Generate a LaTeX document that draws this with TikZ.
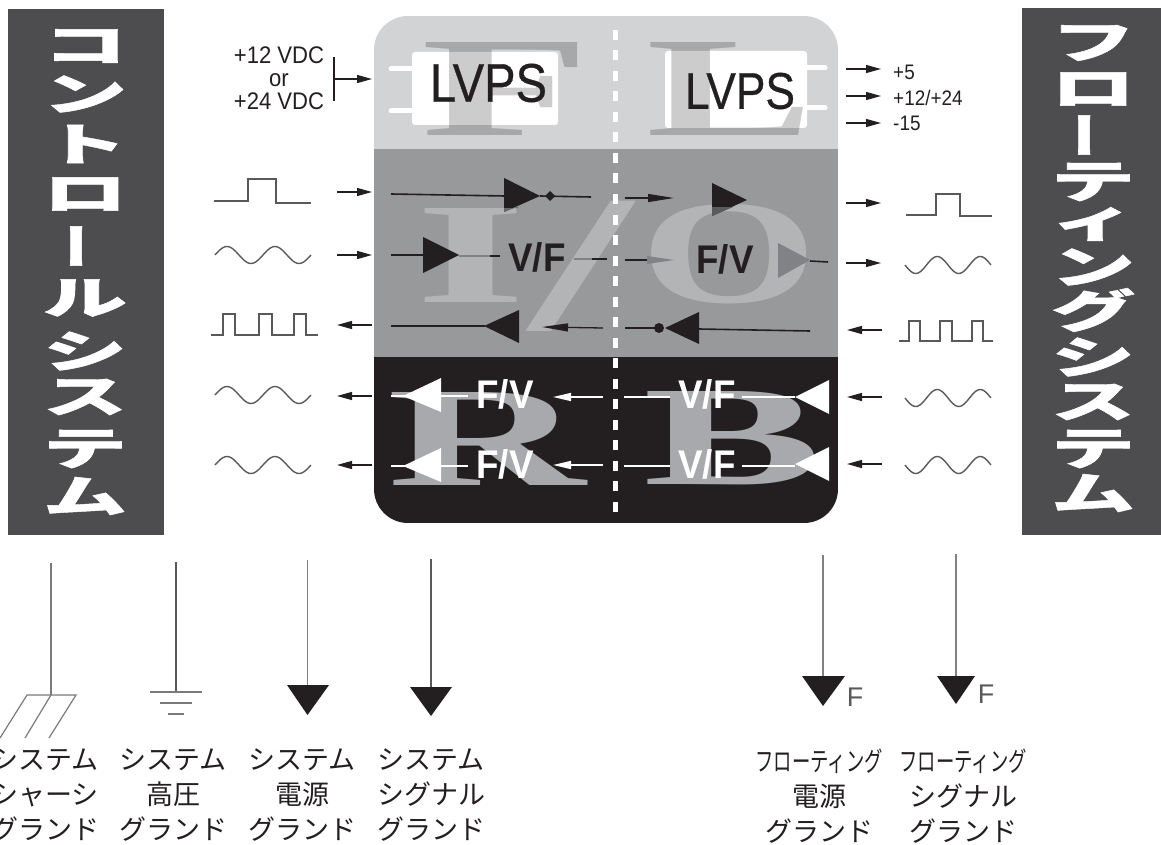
\documentclass[tikz,border=0pt]{standalone}
\usepackage{graphicx}
\usepackage{fontspec}
\setmainfont{Liberation Sans}
\newfontfamily\cjk{Noto Sans CJK JP}
\newfontfamily\cjkfat[BoldFeatures={FakeBold=1}]{Noto Sans CJK JP}
\newfontfamily\lvpsf[FakeBold=0.6]{Liberation Sans}
\newfontfamily\lett{Liberation Serif}
\usetikzlibrary{arrows.meta}
\definecolor{barc}{HTML}{4D4D4F}
\definecolor{lightb}{HTML}{D1D3D4}
\definecolor{midb}{HTML}{98999B}
\definecolor{darkb}{HTML}{231F20}
\definecolor{letd}{HTML}{A7A9AC}
\definecolor{wavec}{HTML}{58595B}
\definecolor{grayt}{HTML}{808285}
\newcommand{\conn}[5]{\coordinate (#1s) at (#3); \coordinate (#1e) at (#4); \draw[#2] (#1s) -- (#1e);}
\newcommand{\mytri}[4]{\fill[#1] (#2) -- (#3) -- (#4) -- cycle;}
\newcommand{\vch}[5]{\node[barch] (#1) at (#2,#3) {\scalebox{#4}[.8]{#5}};}
\newcommand{\vbar}[3]{\node[barch] (#1) at (#2,#3) {\rotatebox{90}{\scalebox{.85}[1.1]{ー}}};}
\newcommand{\sinewave}[5]{\draw[wave] plot[domain=0:1,samples=60,variable=\t] ({#1+#2*\t},{#3-#4*#5*sin(720*\t)});}
\tikzset{
  barch/.style={inner sep=0pt,text=white,font=\cjkfat\bfseries\fontsize{56}{56}\selectfont},
  wave/.style={draw=wavec,line width=1.4pt},
  ptrR/.style={-{Triangle[length=15pt,width=8pt]},line width=1.2pt,draw=darkb,fill=darkb},
  ptrS/.style={-{Triangle[length=26pt,width=8pt]},line width=1.3pt,draw=darkb,fill=darkb},
  wptr/.style={-{Triangle[length=18pt,width=8pt]},line width=1.5pt,draw=white,fill=white},
  blk/.style={line width=1.6pt,draw=darkb},
  wht/.style={line width=1.8pt,draw=white},
  pin/.style={line width=5pt,draw=white,line cap=round},
  bglet/.style={inner sep=0pt,font=\lett\bfseries},
  lvps/.style={inner sep=0pt,text=darkb,font=\lvpsf},
  sig/.style={inner sep=0pt,font=\bfseries\fontsize{40}{40}\selectfont},
  gline/.style={line width=1.2pt,draw=wavec!80},
  glab/.style={inner sep=0pt,align=center,font=\cjk\fontsize{27}{35}\selectfont,text=darkb},
  thin15/.style={line width=1.1pt,draw=wavec},
  lab/.style={inner sep=0pt,text=darkb},
}
\begin{document}
\begin{tikzpicture}[x=1pt,y=-1pt]
\useasboundingbox (0,0) rectangle (1161,845);
% side bars
\fill[barc] (8,9) rectangle (164,535);
\fill[barc] (1022,8) rectangle (1161,535);
\vch{l1}{85}{46}{1.5}{コ}
\vch{l2}{85}{94}{1.5}{ン}
\vch{l3}{85}{144}{1.5}{ト}
\vch{l4}{85}{194}{1.5}{ロ}
\vbar{l5}{85}{246}
\vch{l6}{85}{298}{1.5}{ル}
\vch{l7}{85}{351}{1.5}{シ}
\vch{l8}{85}{397}{1.5}{ス}
\vch{l9}{85}{449}{1.5}{テ}
\vch{l10}{85}{496}{1.5}{ム}
\vch{r1}{1093}{43}{1.5}{フ}
\vch{r2}{1093}{89}{1.5}{ロ}
\vbar{r3}{1093}{135}
\vch{r4}{1093}{182}{1.5}{テ}
\vch{r5}{1093}{224}{1.5}{ィ}
\vch{r6}{1093}{267}{1.5}{ン}
\vch{r7}{1093}{310}{1.5}{グ}
\vch{r8}{1093}{357}{1.5}{シ}
\vch{r9}{1093}{402}{1.5}{ス}
\vch{r10}{1093}{449}{1.5}{テ}
\vch{r11}{1093}{493}{1.5}{ム}
% panel
\begin{scope}
\clip[rounded corners=34pt] (374,16) rectangle (838,523);
\fill[lightb] (374,16) rectangle (838,149);
\fill[midb] (374,149) rectangle (838,357);
\fill[darkb] (374,357) rectangle (838,523);
\end{scope}
% LVPS backing
\fill[white,rounded corners=3pt] (412,52) rectangle (558,125);
\fill[white,rounded corners=3pt] (665,51) rectangle (807,128);
\conn{p1}{pin}{391,69}{412,69}{}
\conn{p2}{pin}{391,111}{412,111}{}
\conn{p3}{pin}{807,68}{825,68}{}
\conn{p4}{pin}{807,108}{825,108}{}
% big letters
\node[bglet,text=black,text opacity=.2] (bF) at (506,88.5) {\resizebox{169pt}{93pt}{F}};
\node[bglet,text=black,text opacity=.2] (bL) at (730,88.5) {\resizebox{167pt}{93pt}{L}};
\node[bglet,text=white,text opacity=.27] (bI) at (471.5,255) {\resizebox{111pt}{94pt}{I}};
\node[bglet,text=white,text opacity=.27] (bS) at (581,266) {\resizebox*{103pt}{130pt}{/}};
\node[bglet,text=white,text opacity=.27] (bO) at (729,254) {\resizebox{177pt}{98pt}{O}};
\node[bglet,text=letd] (bR) at (487,438.5) {\resizebox{198pt}{93pt}{R}};
\node[bglet,text=letd] (bB) at (733,438.5) {\resizebox{178pt}{93pt}{B}};
% divider
\coordinate (d1) at (615,30); \coordinate (d2) at (615,515);
\draw[white,line width=5pt,dash pattern=on 10pt off 10.5pt] (d1) -- (d2);
% LVPS text
\node[lvps] (lv1) at (488.5,83) {\resizebox{117pt}{38pt}{LVPS}};
\node[lvps] (lv2) at (740,91) {\resizebox{110pt}{36pt}{LVPS}};
% row 1
\conn{m1a}{blk}{391,194}{505,196}{}
\mytri{darkb}{504,178}{504,212}{540,196}
\fill[grayt!80!black] (504,208) -- (504,212) -- (518,206.5) -- (518,208) -- cycle;
\fill[darkb] (545,196) -- (550,191) -- (555,196) -- (550,201) -- cycle;
\conn{m1b}{blk}{540,196}{591,197}{}
\conn{m1c}{ptrS}{625,198}{674,198}{}
\mytri{darkb}{712,183}{712,216}{747,200}
\fill[grayt!70!black] (712,207) -- (712,216) -- (733,207) -- cycle;
% row 2
\conn{m2a}{blk}{391,255}{423,255}{}
\mytri{darkb}{423,237}{423,273}{459,255}
\draw[line width=1.6pt,draw=grayt] (459,256) -- (490,256);
\draw[line width=1.6pt,draw=darkb] (490,256) -- (500,256);
\node[sig,text=darkb] (vf1) at (537,257) {\scalebox{.92}[1]{V/F}};
\draw[line width=1.6pt,draw=grayt] (574,259) -- (592,259);
\draw[line width=1.6pt,draw=darkb] (592,259) -- (607,259);
\conn{m2c}{line width=1.5pt,draw=darkb}{625,260}{648,260}{}
\fill[grayt] (647,256) -- (674,260) -- (647,264) -- cycle;
\node[sig,text=darkb] (fv1) at (725,259) {\scalebox{.92}[1]{F/V}};
\mytri{grayt}{778,243}{778,278}{810,260}
\conn{m2d}{blk}{810,261}{828,262}{}
% row 3
\conn{m3a}{blk}{391,326}{485,326}{}
\mytri{darkb}{519,310}{519,343}{484,326}
\conn{m3b}{ptrS}{603,328}{542,327}{}
\conn{m3c}{blk}{625,328}{656,328}{}
\fill[darkb] (659,328) circle (5);
\mytri{darkb}{699,312}{699,344}{665,328}
\conn{m3d}{blk}{699,329}{810,331}{}
% row 4
\conn{b1a}{wht}{391,396}{468,396}{}
\mytri{white}{441,378}{441,412}{403,396}
\node[sig,text=white] (fv2) at (505,394) {\scalebox{.92}[1]{F/V}};
\conn{b1b}{wptr}{603,397}{553,397}{}
\conn{b1c}{wht}{624,397}{670,397}{}
\node[sig,text=white] (vf2) at (707,394) {\scalebox{.92}[1]{V/F}};
\conn{b1d}{wht}{742,397}{795,397}{}
\mytri{white}{829,380}{829,414}{795,397}
% row 5
\conn{b2a}{wht}{391,466}{468,466}{}
\mytri{white}{441,448}{441,482}{403,466}
\node[sig,text=white] (fv3) at (505,464) {\scalebox{.92}[1]{F/V}};
\conn{b2b}{wptr}{603,465}{553,465}{}
\conn{b2c}{wht}{624,466}{670,466}{}
\node[sig,text=white] (vf3) at (707,464) {\scalebox{.92}[1]{V/F}};
\conn{b2d}{wht}{742,466}{795,466}{}
\mytri{white}{829,447}{829,481}{795,464}
% left supply
\node[lab,align=center,font=\fontsize{24}{23}\selectfont] (sup) at (279,78) {\scalebox{.92}[1]{+12 VDC}\\\scalebox{.92}[1]{or}\\\scalebox{.92}[1]{+24 VDC}};
\coordinate (b1) at (334,57); \coordinate (b2) at (334,101);
\draw[thin15,draw=darkb] (b1) -- (b2);
\conn{sa}{ptrR}{334,79}{372,79}{}
% left arrows
\conn{la1}{ptrR}{337,192}{372,192}{}
\conn{la2}{ptrR}{337,255}{372,255}{}
\conn{la3}{ptrR}{372,325}{337,325}{}
\conn{la4}{ptrR}{372,396}{337,396}{}
\conn{la5}{ptrR}{372,465}{337,465}{}
% right supply
\conn{ra1}{ptrR}{846,69}{881,69}{}
\conn{ra2}{ptrR}{846,96}{881,96}{}
\conn{ra3}{ptrR}{846,123}{881,123}{}
\node[lab,anchor=west,font=\fontsize{21}{21}\selectfont] (v1) at (893,72) {\scalebox{.9}[1]{+5}};
\node[lab,anchor=west,font=\fontsize{21}{21}\selectfont] (v2) at (893,98) {\scalebox{.9}[1]{+12/+24}};
\node[lab,anchor=west,font=\fontsize{21}{21}\selectfont] (v3) at (893,123) {\scalebox{.9}[1]{-15}};
% right arrows
\conn{ra4}{ptrR}{846,203}{881,203}{}
\conn{ra5}{ptrR}{846,263}{881,263}{}
\conn{ra6}{ptrR}{882,330}{847,330}{}
\conn{ra7}{ptrR}{882,397}{847,397}{}
\conn{ra8}{ptrR}{882,464}{847,464}{}
% waveforms
\draw[wave] (214,201) -- (248,201) -- (248,179) -- (276,179) -- (276,203) -- (311,203);
\sinewave{215}{96}{255}{8.5}{1}
\draw[wave] (211,335) -- (223,335) -- (223,314) -- (235,314) -- (235,335) -- (259,335) -- (259,314) -- (272,314) -- (272,335) -- (294,335) -- (294,314) -- (306,314) -- (306,335) -- (318,335);
\sinewave{215}{96}{395}{8.5}{1}
\sinewave{215}{96}{465}{8.5}{1}
\draw[wave] (906,215) -- (936,215) -- (936,194) -- (960,194) -- (960,216) -- (992,216);
\sinewave{905}{86}{265}{8.5}{-1}
\draw[wave] (899,341) -- (909,341) -- (909,321) -- (920,321) -- (920,341) -- (940,341) -- (940,321) -- (952,321) -- (952,341) -- (972,341) -- (972,321) -- (983,321) -- (983,341) -- (993,341);
\sinewave{905}{86}{398}{8.5}{-1}
\sinewave{905}{86}{465}{8.5}{-1}
% grounds
\coordinate (g1t) at (51,563); \coordinate (g1b) at (51,695);
\draw[gline] (g1t) -- (g1b);
\draw[gline] (0,738) -- (27,695) -- (76,695) -- (49,738);
\draw[gline] (51,695) -- (25,738);
\coordinate (g2t) at (176,562); \coordinate (g2b) at (176,692);
\draw[gline,draw=wavec] (g2t) -- (g2b);
\draw[gline] (150,692) -- (202,692);
\draw[gline] (160,703) -- (192,703);
\draw[gline] (168,714) -- (184,714);
\coordinate (g3t) at (307.5,560); \coordinate (g3b) at (307.5,686);
\draw[gline,draw=grayt] (g3t) -- (g3b);
\mytri{darkb}{287,685}{329,685}{307.5,715}
\coordinate (g4t) at (431,559); \coordinate (g4b) at (431,688);
\draw[gline,draw=wavec] (g4t) -- (g4b);
\mytri{darkb}{410,687}{452,687}{431,716}
\coordinate (g5t) at (823,555); \coordinate (g5b) at (823,677);
\draw[gline,draw=grayt] (g5t) -- (g5b);
\mytri{darkb}{802,676}{845,676}{823,706}
\node[inner sep=0pt,text=wavec,font=\fontsize{27}{27}\selectfont] (f1) at (855,697) {F};
\coordinate (g6t) at (956,554); \coordinate (g6b) at (956,677);
\draw[gline,draw=grayt] (g6t) -- (g6b);
\mytri{darkb}{937,676}{975,676}{956,704}
\node[inner sep=0pt,text=wavec,font=\fontsize{27}{27}\selectfont] (f2) at (986,694) {F};
% ground labels
\node[glab] (t1) at (45,795) {システム\\シャーシ\\グランド};
\node[glab] (t2) at (173,795) {システム\\高圧\\グランド};
\node[glab] (t3) at (302,795) {システム\\電源\\グランド};
\node[glab] (t4) at (431,795) {システム\\シグナル\\グランド};
\node[glab] (t5) at (819,796) {\scalebox{.68}[1]{フローティング}\\電源\\グランド};
\node[glab] (t6) at (963,796) {\scalebox{.68}[1]{フローティング}\\シグナル\\グランド};
\end{tikzpicture}
\end{document}
